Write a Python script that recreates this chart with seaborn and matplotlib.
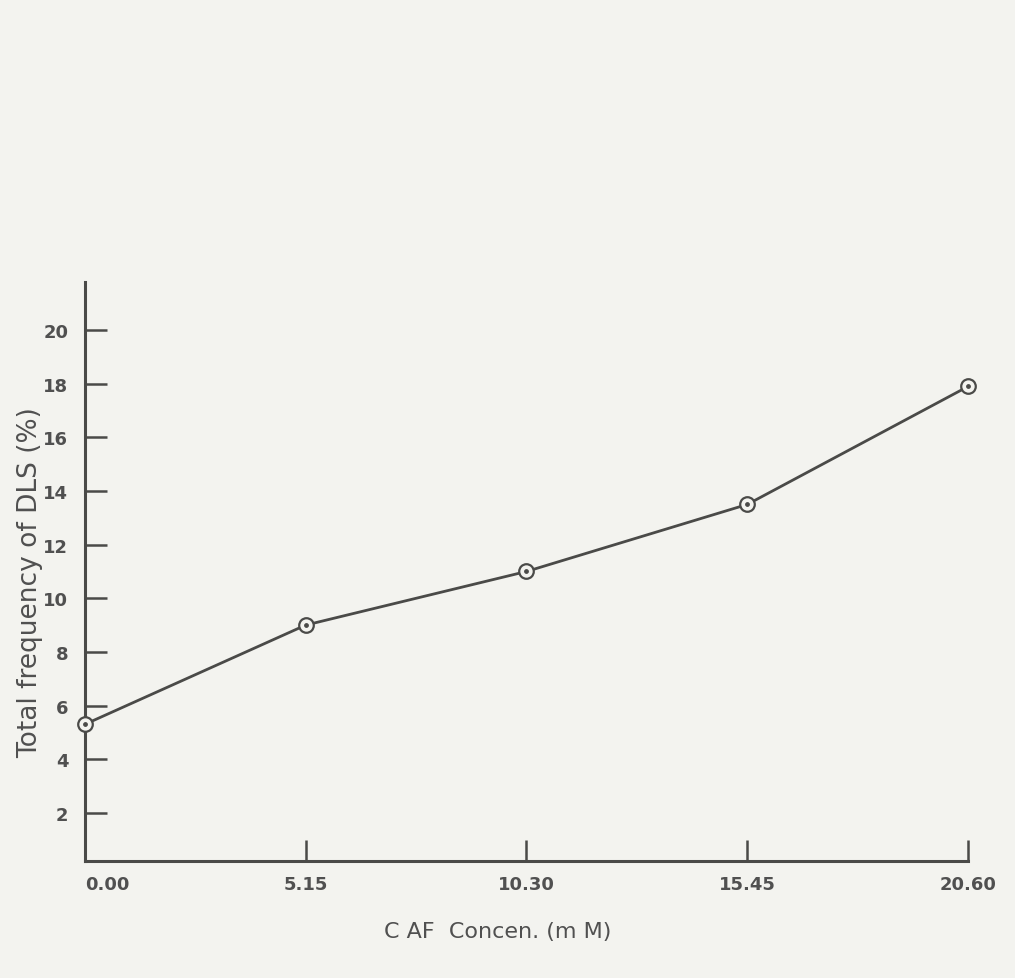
import matplotlib
matplotlib.use('Agg')
import matplotlib.pyplot as plt
import seaborn as sns
import pandas as pd

# data
caf_conc = [0.00, 5.15, 10.30, 15.45, 20.60]
dls_freq = [5.3, 9.0, 11.0, 13.5, 17.9]
x_ticks = [0.00, 5.15, 10.30, 15.45, 20.60]
x_tick_labels = ['0.00', '5.15', '10.30', '15.45', '20.60']
y_ticks = [2, 4, 6, 8, 10, 12, 14, 16, 18, 20]

df = pd.DataFrame({'conc': caf_conc, 'freq': dls_freq})

sns.set_style('white')
plt.rcParams['font.family'] = ['DejaVu Sans']

ink = '#4a4a48'
txt = '#505050'
paper = '#f3f3ef'

fig = plt.figure(figsize=(10.15, 9.79), dpi=100, facecolor=paper)
ax = fig.add_axes([0.0837, 0.1195, 0.87, 0.5915])
ax.set_facecolor(paper)

sns.lineplot(data=df, x='conc', y='freq', color=ink, linewidth=2, ax=ax, zorder=2)
ax.scatter(df['conc'], df['freq'], s=110, facecolor=paper, edgecolor=ink,
           linewidth=1.6, zorder=3, clip_on=False)
ax.scatter(df['conc'], df['freq'], s=6, color=ink, zorder=4, clip_on=False)

ax.set_xlim(0, 20.60)
ax.set_ylim(0.2, 21.8)
ax.set_xticks(x_ticks)
ax.set_xticklabels(x_tick_labels)
ax.set_yticks(y_ticks)

for side in ['top', 'right']:
    ax.spines[side].set_visible(False)
for side in ['left', 'bottom']:
    ax.spines[side].set_color(ink)
    ax.spines[side].set_linewidth(2.2)

ax.tick_params(axis='y', left=True, direction='in', length=16, width=1.8,
               color=ink, labelsize=13, labelcolor=txt, pad=12)
ax.tick_params(axis='x', bottom=True, direction='in', length=15, width=1.8,
               color=ink, labelsize=13, labelcolor=txt, pad=10)
for lab in ax.get_yticklabels() + ax.get_xticklabels():
    lab.set_fontweight('bold')
# first x label sits a little right of the axis corner in the original
ax.get_xticklabels()[0].set_horizontalalignment('left')

ax.set_xlabel('')
ax.set_ylabel('')
fig.text(0.03, 0.405, 'Total frequency of DLS (%)', rotation=90,
         ha='center', va='center', fontsize=19, color=txt)
fig.text(0.49, 0.048, 'C AF  Concen. (m M)', ha='center', va='center',
         fontsize=16, color=txt)

fig.savefig('out.png', dpi=100, facecolor=paper)
